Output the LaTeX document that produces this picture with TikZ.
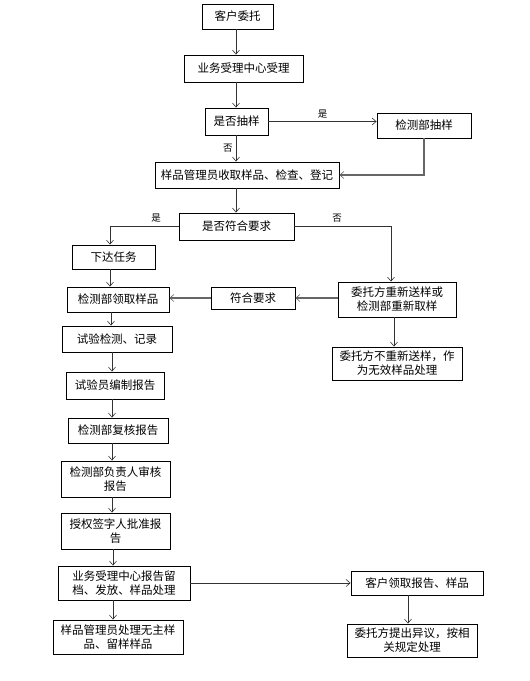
\documentclass[tikz,border=0pt]{standalone}
\usepackage{fontspec}
\newfontfamily\cjk{Noto Sans CJK SC}
\usetikzlibrary{arrows.meta}
\begin{document}
\begin{tikzpicture}[x=1pt,y=-1pt,
  box/.style={draw=black,line width=0.9pt,fill=white,inner sep=1pt,align=center,font=\cjk\fontsize{11.5}{14}\selectfont},
  arr/.style={draw=black!80,line width=0.6pt,-{Straight Barb[length=4pt,width=7pt]}},
  tharr/.style={draw=black!60,line width=1.4pt,-{Straight Barb[length=4pt,width=7pt,line width=0.6pt]}},
  lab/.style={font=\cjk\fontsize{9.5}{10}\selectfont,inner sep=0pt}]
\fill[white] (0,0) rectangle (530,681);
\useasboundingbox (0,0) rectangle (530,681);
\node[box,minimum width=71pt,minimum height=25pt] (n1) at (237.5,16.5) {客户委托};
\node[box,minimum width=119pt,minimum height=27pt] (n2) at (243.5,68.5) {业务受理中心受理};
\node[box,minimum width=63pt,minimum height=27pt] (n3) at (236.5,121.5) {是否抽样};
\node[box,minimum width=94pt,minimum height=25pt] (n4) at (424,125.5) {检测部抽样};
\node[box,minimum width=184pt,minimum height=26pt] (n5) at (247,175) {样品管理员收取样品、检查、登记};
\node[box,minimum width=115pt,minimum height=27pt] (n6) at (236.5,226.5) {是否符合要求};
\node[box,minimum width=83pt,minimum height=24pt] (n7) at (113.5,257) {下达任务};
\node[box,minimum width=102pt,minimum height=25pt] (n8) at (118,299.5) {检测部领取样品};
\node[box,minimum width=84pt,minimum height=22pt] (n9) at (253,298) {符合要求};
\node[box,minimum width=118pt,minimum height=35pt] (n10) at (397,299.5) {委托方重新送样或\\检测部重新取样};
\node[box,minimum width=110pt,minimum height=26pt] (n11) at (117,339) {试验检测、记录};
\node[box,minimum width=130pt,minimum height=33pt] (n12) at (397,363.5) {委托方不重新送样，作\\为无效样品处理};
\node[box,minimum width=98pt,minimum height=27pt] (n13) at (115,385.5) {试验员编制报告};
\node[box,minimum width=100pt,minimum height=25pt] (n14) at (118,430.5) {检测部复核报告};
\node[box,minimum width=109pt,minimum height=36pt] (n15) at (115.5,479) {检测部负责人审核\\报告};
\node[box,minimum width=109pt,minimum height=36pt] (n16) at (115.5,531) {授权签字人批准报\\告};
\node[box,minimum width=132pt,minimum height=34pt] (n17) at (124,583) {业务受理中心报告留\\档、发放、样品处理};
\node[box,minimum width=132pt,minimum height=24pt] (n18) at (417,583) {客户领取报告、样品};
\node[box,minimum width=130pt,minimum height=34pt] (n19) at (118,637) {样品管理员处理无主样\\品、留样样品};
\node[box,minimum width=130pt,minimum height=33pt] (n20) at (412,640.5) {委托方提出异议，按相\\关规定处理};
% connectors
\coordinate (c12) at (236,0);
\draw[arr] (n1.south -| c12) -- (n2.north -| c12);
\draw[arr] (n2.south -| c12) -- (n3.north -| c12);
\draw[arr] (n3.east) -- (n3.east -| n4.west) node[lab,midway,above=3pt] {是};
\draw[arr] (n3.south -| c12) -- (n5.north -| c12) node[lab,midway,left=3pt] {否};
\draw[tharr] (n4.south) |- (n5.east);
\draw[arr] (n5.south -| c12) -- (n6.north -| c12);
\coordinate (cl) at (110,0);
\draw[arr] (n6.west) -| (n7.north -| cl);
\node[lab] (ly) at (156,218) {是};
\coordinate (cr) at (391,0);
\draw[arr] (n6.east) -| (n10.north -| cr);
\node[lab] (ln) at (337,218) {否};
\draw[arr] (n7.south -| cl) -- (n8.north -| cl);
\draw[tharr] (n10.west |- n9.east) -- (n9.east);
\draw[tharr] (n9.west) -- (n9.west -| n8.east);
\coordinate (cr2) at (394,0);
\draw[arr] (n10.south -| cr2) -- (n12.north -| cr2);
\coordinate (cm) at (111,0);
\draw[arr] (n8.south -| cm) -- (n11.north -| cm);
\coordinate (cm2) at (112,0);
\draw[arr] (n11.south -| cm2) -- (n13.north -| cm2);
\draw[arr] (n13.south -| cm2) -- (n14.north -| cm2);
\draw[arr] (n14.south -| cm2) -- (n15.north -| cm2);
\draw[arr] (n15.south -| cm2) -- (n16.north -| cm2);
\coordinate (cm3) at (113,0);
\draw[arr] (n16.south -| cm3) -- (n17.north -| cm3);
\draw[arr] (n17.south -| cm3) -- (n19.north -| cm3);
\draw[arr] (n17.east) -- (n17.east -| n18.west);
\coordinate (cr3) at (408,0);
\draw[arr] (n18.south -| cr3) -- (n20.north -| cr3);
\end{tikzpicture}
\end{document}
